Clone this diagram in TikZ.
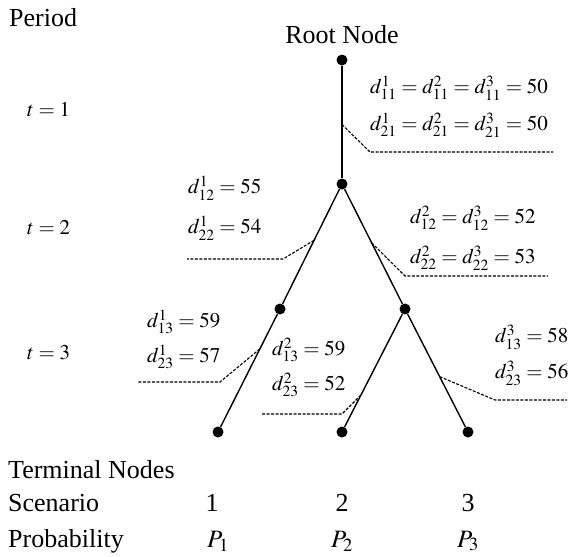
\documentclass[tikz,border=0pt]{standalone}
\usepackage{mathptmx}
\usepackage{fontspec}
\setmainfont{Liberation Serif}
\usetikzlibrary{calc}
\tikzset{
  dot/.style={circle,fill=black,inner sep=0pt,minimum size=11pt},
  edge/.style={line width=1.4pt},
  lead/.style={line width=1.1pt,dash pattern=on 3pt off 1.5pt},
  txt/.style={inner sep=0pt,anchor=west,font=\fontsize{26}{30}\selectfont},
  lbl/.style={inner sep=0pt,anchor=west,font=\fontsize{21}{25}\selectfont},
  plbl/.style={inner sep=0pt,anchor=center,font=\fontsize{25}{30}\selectfont},
}
\begin{document}
\begin{tikzpicture}[x=1pt,y=-1pt]
\useasboundingbox (0,0) rectangle (574,557);
% tree nodes
\node[dot] (r) at (342,60) {};
\node[dot] (n2) at (342,184) {};
\node[dot] (a) at (280,309) {};
\node[dot] (b) at (405,309) {};
\node[dot] (t1) at (218,432) {};
\node[dot] (t2) at (342,432) {};
\node[dot] (t3) at (468,432) {};
\draw[edge] (r) -- (n2);
\draw[edge] (n2) -- (a);
\draw[edge] (n2) -- (b);
\draw[edge] (a) -- (t1);
\draw[edge] (b) -- (t2);
\draw[edge] (b) -- (t3);
% left texts
\node[txt] (period) at (9,18) {Period};
\node[txt,anchor=center] (root) at (342,35) {Root Node};
\node[lbl] (p1) at (27,110) {$t=1$};
\node[lbl] (p2) at (27,228) {$t=2$};
\node[lbl] (p3) at (27,353) {$t=3$};
\node[txt] (term) at (8,470) {Terminal Nodes};
\node[txt] (scen) at (8,503) {Scenario};
\node[txt] (prob) at (8,541) {Probability};
\node[txt,anchor=center] (s1) at (212,503) {1};
\node[txt,anchor=center] (s2) at (342,503) {2};
\node[txt,anchor=center] (s3) at (468,503) {3};
\node[plbl] (P1) at (218,541) {$P_1$};
\node[plbl] (P2) at (342,541) {$P_2$};
\node[plbl] (P3) at (468,541) {$P_3$};
% annotations
\node[lbl] (d11) at (370,88) {$d^1_{11}=d^2_{11}=d^3_{11}=50$};
\node[lbl] (d21) at (370,125) {$d^1_{21}=d^2_{21}=d^3_{21}=50$};
\node[lbl] (d12) at (188,188) {$d^1_{12}=55$};
\node[lbl] (d22) at (188,228) {$d^1_{22}=54$};
\node[lbl] (e12) at (410,218) {$d^2_{12}=d^3_{12}=52$};
\node[lbl] (e22) at (410,258) {$d^2_{22}=d^3_{22}=53$};
\node[lbl] (d13) at (147,322) {$d^1_{13}=59$};
\node[lbl] (d23) at (147,357) {$d^1_{23}=57$};
\node[lbl] (e13) at (272,350) {$d^2_{13}=59$};
\node[lbl] (e23) at (272,385) {$d^2_{23}=52$};
\node[lbl] (f13) at (495,337) {$d^3_{13}=58$};
\node[lbl] (f23) at (495,373) {$d^3_{23}=56$};
% leader lines
\coordinate (k1) at (370,152); \coordinate (e1) at (553,152);
\draw[lead] ($(r)!0.52!(n2)$) -- (k1) -- (e1);
\coordinate (k2) at (283,259); \coordinate (e2) at (187,259);
\draw[lead] ($(n2)!0.45!(a)$) -- (k2) -- (e2);
\coordinate (k3) at (405,276); \coordinate (e3) at (548,276);
\draw[lead] ($(n2)!0.47!(b)$) -- (k3) -- (e3);
\coordinate (k4) at (220,382); \coordinate (e4) at (137,382);
\draw[lead] ($(a)!0.325!(t1)$) -- (k4) -- (e4);
\coordinate (k5) at (342,414); \coordinate (e5) at (262,414);
\draw[lead] ($(b)!0.70!(t2)$) -- (k5) -- (e5);
\coordinate (k6) at (495,400); \coordinate (e6) at (567,400);
\draw[lead] ($(b)!0.55!(t3)$) -- (k6) -- (e6);
\end{tikzpicture}
\end{document}
